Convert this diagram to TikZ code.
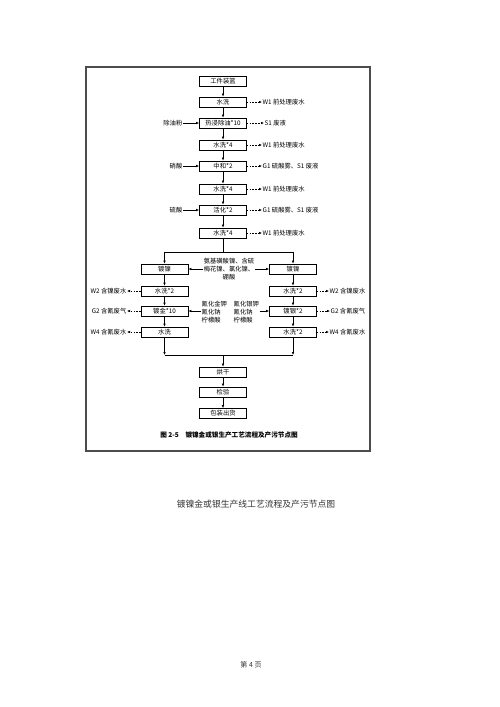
\documentclass[tikz,border=0pt]{standalone}
\usepackage{fontspec}
\newfontfamily\cjk{Noto Sans CJK SC}
\usetikzlibrary{arrows.meta,positioning}

\tikzset{
  box/.style={draw,line width=0.7pt,minimum width=47pt,minimum height=10pt,inner sep=0pt},
  lbl/.style={inner sep=0.5pt},
  feed/.style={line width=0.6pt,-{Latex[length=3pt,width=2.6pt]}},
  emit/.style={line width=0.6pt,dash pattern=on 1.5pt off 1.3pt,-{Latex[length=3pt,width=2.6pt]}},
  link/.style={line width=0.6pt}
}

\begin{document}
\begin{tikzpicture}[x=1pt,y=-1pt,font=\cjk\fontsize{6.3}{8.4}\selectfont]

\useasboundingbox (0,0) rectangle (500,707);

% Frame
\draw[line width=1.2pt,gray!60!black] (86,67) rectangle (370,451);

%-------------------------------------------------
% Pre-treatment line
%-------------------------------------------------

\node[box] (load)     at (223,81)  {工件装篮};
\node[box] (rinse1)   at (223,102) {水洗};
\node[box] (degrease) at (223,123) {热浸除油*10};
\node[box] (rinse2)   at (223,145) {水洗*4};
\node[box] (neutral)  at (223,166) {中和*2};
\node[box] (rinse3)   at (223,189) {水洗*4};
\node[box] (activate) at (223,210) {活化*2};
\node[box] (rinse4)   at (223,233) {水洗*4};

\draw[feed] (load) -- (rinse1);
\draw[feed] (rinse1) -- (degrease);
\draw[feed] (degrease) -- (rinse2);
\draw[feed] (rinse2) -- (neutral);
\draw[feed] (neutral) -- (rinse3);
\draw[feed] (rinse3) -- (activate);
\draw[feed] (activate) -- (rinse4);

% inputs
\node[lbl,anchor=east] (oilpowder) at (183,123) {除油粉};
\node[lbl,anchor=east] (nitric)    at (183,166) {硝酸};
\node[lbl,anchor=east] (sulfuric)  at (183,210) {硫酸};

\draw[feed] (oilpowder) -- (degrease);
\draw[feed] (nitric) -- (neutral);
\draw[feed] (sulfuric) -- (activate);

% outputs
\node[lbl,anchor=west] (w1a) at (262,102) {W1 前处理废水};
\node[lbl,anchor=west] (s1)  at (264,123) {S1 废液};
\node[lbl,anchor=west] (w1b) at (262,145) {W1 前处理废水};
\node[lbl,anchor=west] (g1a) at (262,166) {G1 硫酸雾、S1 废液};
\node[lbl,anchor=west] (w1c) at (262,189) {W1 前处理废水};
\node[lbl,anchor=west] (g1b) at (262,210) {G1 硫酸雾、S1 废液};
\node[lbl,anchor=west] (w1d) at (262,233) {W1 前处理废水};

\draw[emit] (rinse1) -- (w1a);
\draw[emit] (degrease) -- (s1);
\draw[emit] (rinse2) -- (w1b);
\draw[emit] (neutral) -- (g1a);
\draw[emit] (rinse3) -- (w1c);
\draw[emit] (activate) -- (g1b);
\draw[emit] (rinse4) -- (w1d);

%-------------------------------------------------
% Nickel + gold / silver lines
%-------------------------------------------------

\coordinate (split) at (223,252);

\node[box] (niL)    at (164.5,269) {镀镍};
\node[box] (rinseL) at (164.5,291) {水洗*2};
\node[box] (gold)   at (164.5,311) {镀金*10};
\node[box] (washL)  at (164.5,332) {水洗};

\node[box] (niR)    at (293,269) {镀镍};
\node[box] (rinseR) at (293,291) {水洗*2};
\node[box] (silver) at (293,311) {镀银*2};
\node[box] (washR)  at (293,332) {水洗*2};

\draw[link] (rinse4) -- (split);
\draw[feed] (split) -| (niL);
\draw[feed] (split) -| (niR);

\draw[feed] (niL) -- (rinseL);
\draw[feed] (rinseL) -- (gold);
\draw[feed] (gold) -- (washL);
\draw[feed] (niR) -- (rinseR);
\draw[feed] (rinseR) -- (silver);
\draw[feed] (silver) -- (washR);

% plating salts
\node[lbl,align=center] (nisalt) at (229,269) {氨基磺酸镍、含硫\\梅花镍、氯化镍、\\硼酸};
\node[lbl,align=left,anchor=west] (aucn) at (201,312) {氰化金钾\\氰化钠\\柠檬酸};
\node[lbl,align=left,anchor=west] (agcn) at (233,312) {氰化银钾\\氰化钠\\柠檬酸};

\draw[feed] (nisalt) -- (niL);
\draw[feed] (nisalt) -- (niR);
\draw[feed] (aucn.west |- gold.east) -- (gold.east);
\draw[feed] (agcn.east |- silver.west) -- (silver.west);

% outputs left
\node[lbl,anchor=east] (w2L) at (127,291) {W2 含镍废水};
\node[lbl,anchor=east] (g2L) at (127,311) {G2 含氰废气};
\node[lbl,anchor=east] (w4L) at (127,332) {W4 含氰废水};

\draw[emit] (rinseL) -- (w2L);
\draw[emit] (gold) -- (g2L);
\draw[emit] (washL) -- (w4L);

% outputs right
\node[lbl,anchor=west] (w2R) at (329,291) {W2 含镍废水};
\node[lbl,anchor=west] (g2R) at (330,311) {G2 含氰废气};
\node[lbl,anchor=west] (w4R) at (329,332) {W4 含氰废水};

\draw[emit] (rinseR) -- (w2R);
\draw[emit] (silver) -- (g2R);
\draw[emit] (washR) -- (w4R);

%-------------------------------------------------
% Finishing
%-------------------------------------------------

\coordinate (merge) at (223,355);

\node[box] (dry)     at (223,372) {烘干};
\node[box] (inspect) at (223,392) {检验};
\node[box] (pack)    at (223,413.5) {包装出货};

\draw[feed] (washL) -- (washL |- merge);
\draw[feed] (washR) -- (washR |- merge);
\draw[link] (washL |- merge) -- (washR |- merge);
\draw[feed] (merge) -- (dry);
\draw[feed] (dry) -- (inspect);
\draw[feed] (inspect) -- (pack);

% captions
\node[lbl,font=\cjk\bfseries\fontsize{6.6}{8}\selectfont] (figcap) at (229,435)
  {图 2-5\quad 镀镍金或银生产工艺流程及产污节点图};
\node[lbl,font=\cjk\fontsize{8.8}{10}\selectfont,black!80] (pagecap) at (256,504)
  {镀镍金或银生产线工艺流程及产污节点图};
\node[lbl,font=\cjk\fontsize{7}{8}\selectfont,black!80] (pageno) at (251,665)
  {第 4 页};

\end{tikzpicture}
\end{document}
